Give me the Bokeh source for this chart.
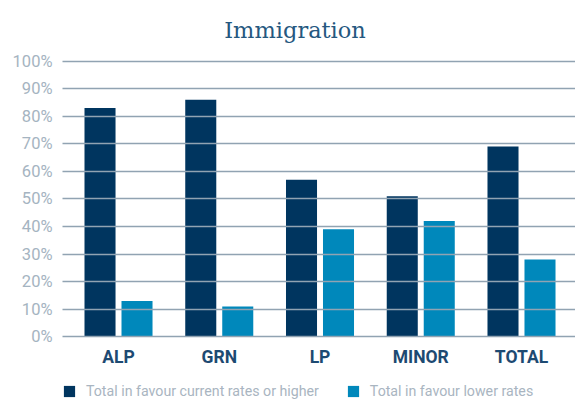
from bokeh.plotting import figure
from bokeh.models import ColumnDataSource, Range1d, FixedTicker, Legend, LegendItem
from bokeh.transform import dodge
from bokeh.core.properties import value
from bokeh.embed import file_html
from bokeh.resources import INLINE

title_text = "Immigration"
categories = ["ALP", "GRN", "LP", "MINOR", "TOTAL"]
current_or_higher = [83, 86, 57, 51, 69]
lower_rates = [13, 11, 39, 42, 28]
y_ticks = [0, 10, 20, 30, 40, 50, 60, 70, 80, 90, 100]

DARK = "#00355f"
LIGHT = "#0088bb"
GRID = "#91a3b2"

src = ColumnDataSource(dict(x=list(range(len(categories))), cur=current_or_higher, low=lower_rates,
                            name=categories, ly=[-7.5] * len(categories)))

p = figure(frame_width=513, frame_height=403, output_backend="svg", toolbar_location=None,
           title=None,
           x_range=Range1d(-0.556, 4.536), y_range=Range1d(-24.19, 121.98),
           min_border_left=62, min_border_right=0, min_border_top=0, min_border_bottom=0)
p.outline_line_color = None
p.background_fill_color = "white"

r1 = p.vbar(x=dodge("x", -0.1836), top="cur", width=0.308, source=src, color=DARK, line_color=None)
r2 = p.vbar(x=dodge("x", 0.1836), top="low", width=0.308, source=src, color=LIGHT, line_color=None)

# category labels under the bars
p.text(x="x", y="ly", text="name", source=src, text_font=value("Roboto"), text_font_style="bold",
       text_font_size="17.5px", text_color="#1d4a72", text_align="center", text_baseline="middle")

# chart title
p.text(x=[1.752], y=[111.35], text=[title_text], text_font=value("DejaVu Serif"),
       text_font_size="22.5px", text_color="#25587f", text_align="center", text_baseline="alphabetic")

# y axis
p.yaxis.ticker = FixedTicker(ticks=y_ticks)
p.yaxis.major_label_overrides = {t: f"{t}%" for t in y_ticks}
p.yaxis.axis_line_color = None
p.yaxis.major_tick_line_color = None
p.yaxis.major_tick_out = 0
p.yaxis.major_tick_in = 0
p.yaxis.minor_tick_line_color = None
p.yaxis.major_label_standoff = 10
p.yaxis.major_label_text_font = "Roboto"
p.yaxis.major_label_text_font_size = "16.5px"
p.yaxis.major_label_text_color = "#a5b4c1"

p.xaxis.visible = False

# grid
p.xgrid.grid_line_color = None
p.ygrid.ticker = FixedTicker(ticks=y_ticks)
p.ygrid.grid_line_color = GRID
p.ygrid.grid_line_width = 1.6
p.ygrid.level = "overlay"

legend = Legend(items=[LegendItem(label="Total in favour current rates or higher", renderers=[r1]),
                       LegendItem(label="Total in favour lower rates", renderers=[r2])],
                orientation="horizontal", location=(0, 4))
legend.padding = 0
legend.margin = 0
legend.spacing = 27
legend.glyph_width = 14
legend.glyph_height = 14
legend.label_height = 14
legend.label_standoff = 10
legend.border_line_color = None
legend.background_fill_alpha = 0
legend.label_text_font = "Roboto"
legend.label_text_font_size = "14.2px"
legend.label_text_color = "#a9b5c1"
p.add_layout(legend, "center")

open("out.html", "w").write(file_html(p, INLINE))
